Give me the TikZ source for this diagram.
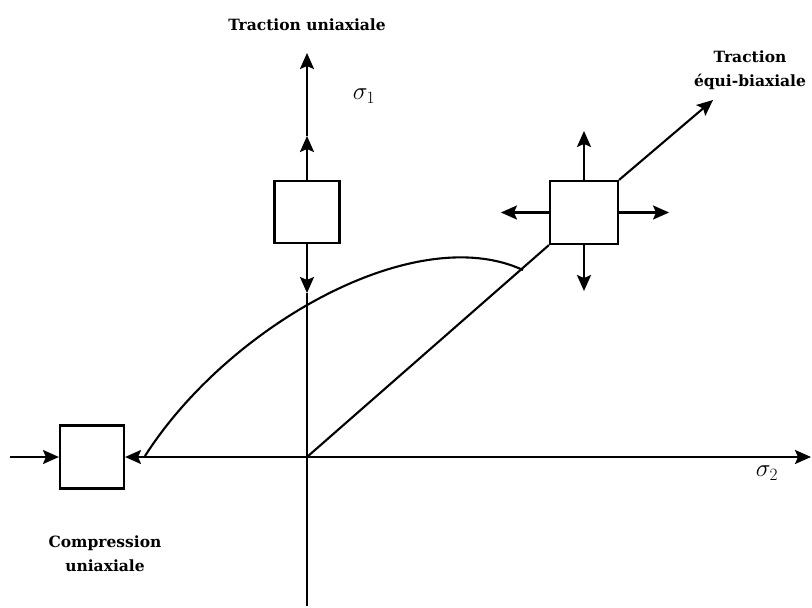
\documentclass[tikz,border=0pt]{standalone}
\usepackage{fontspec}
\setmainfont{DejaVu Serif}
\usetikzlibrary{arrows.meta}
\tikzset{
  elem/.style={draw, fill=white, inner sep=0pt, minimum width=65pt, minimum height=62pt},
  lbl/.style={font=\bfseries\fontsize{15.5}{24}\selectfont, align=center},
  sig/.style={font=\fontsize{26}{28}\selectfont}
}
\begin{document}
\begin{tikzpicture}[x=1pt, y=-1pt, line width=2.1pt, >={Stealth[length=16pt, width=14pt, inset=3pt]}]
  \useasboundingbox (0,0) rectangle (812,608);
  \coordinate (orig) at (307,457);
  \coordinate (ytop) at (307,53);
  \coordinate (ybot) at (307,606);
  \coordinate (xend) at (811,457);
  \coordinate (cin) at (10,457);
  \coordinate (curve) at (523,270);
  \coordinate (biaxtip) at (713,100);
  \node[elem] (boxuni) at (307,212) {};
  \node[elem, minimum width=68pt, minimum height=63pt] (boxbi) at (584,212.5) {};
  \node[elem, minimum width=64pt, minimum height=63pt] (boxcomp) at (92,457) {};
  % axes
  \draw[->] (orig) -- (xend);
  \draw (orig) -- (ybot);
  \draw[->] (boxuni.north) -- (307,136);
  \draw[->] (307,136) -- (ytop);
  \draw[->] (boxuni.south) -- (307,293);
  \draw (307,293) -- (orig);
  % compression
  \draw[->] (orig) -- (boxcomp.east);
  \draw[->] (cin) -- (boxcomp.west);
  % biaxial
  \draw (orig) -- (boxbi.south west);
  \draw[->] (boxbi.north east) -- (biaxtip);
  \draw[->] (boxbi.north) -- ++(0,-49);
  \draw[->] (boxbi.south) -- ++(0,46);
  \draw[->] (boxbi.east) -- ++(50,0);
  \draw[->] (boxbi.west) -- ++(-48,0);
  % failure curve
  \draw (145,456) .. controls (228,326) and (415,220) .. (curve);
  % labels
  \node[lbl] (tuni) at (307,25) {Traction uniaxiale};
  \node[lbl] (tbi) at (750,70) {Traction\\équi-biaxiale};
  \node[lbl] (comp) at (105,554) {Compression\\uniaxiale};
  \node[sig] (s1) at (364,96) {$\sigma_1$};
  \node[sig] (s2) at (767,473) {$\sigma_2$};
\end{tikzpicture}
\end{document}
